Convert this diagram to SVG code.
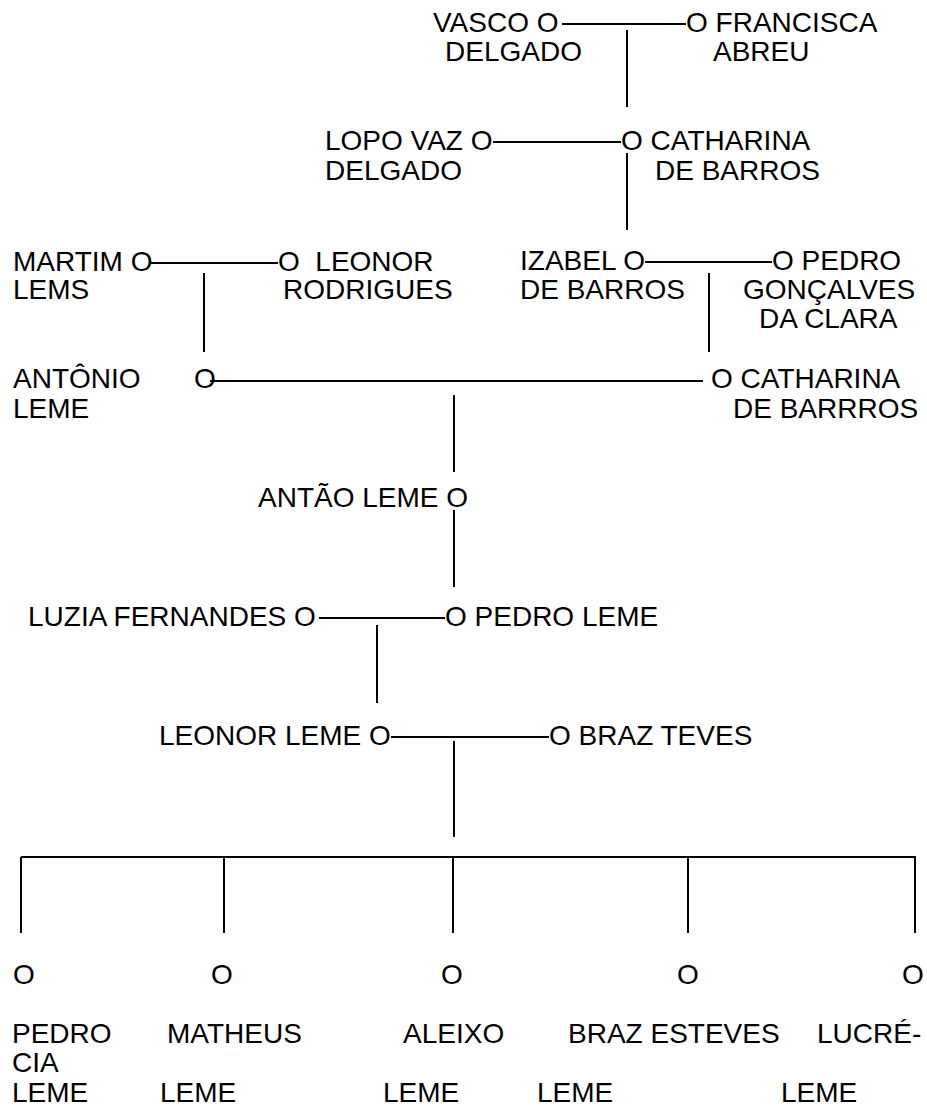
<svg xmlns="http://www.w3.org/2000/svg" width="927" height="1109" viewBox="0 0 927 1109">
<style>
text{font-family:"Liberation Sans",Arial,sans-serif;font-size:28px;fill:#000;}
.c line{stroke:#000;stroke-width:2;}
</style>
<rect width="927" height="1109" fill="#fff"/>
<g id="connectors" class="c">
<line x1="562" y1="24" x2="686" y2="24"/>
<line x1="627" y1="30" x2="627" y2="107"/>
<line x1="493" y1="142" x2="621" y2="142"/>
<line x1="627" y1="153" x2="627" y2="230"/>
<line x1="150" y1="263" x2="278" y2="263"/>
<line x1="204" y1="273" x2="204" y2="352"/>
<line x1="645" y1="262" x2="772" y2="262"/>
<line x1="709" y1="273" x2="709" y2="352"/>
<line x1="210" y1="381" x2="703" y2="381"/>
<line x1="454" y1="395" x2="454" y2="472"/>
<line x1="454" y1="510" x2="454" y2="587"/>
<line x1="319" y1="618" x2="445" y2="618"/>
<line x1="377" y1="625" x2="377" y2="703"/>
<line x1="391" y1="737" x2="549" y2="737"/>
<line x1="454" y1="741" x2="454" y2="837"/>
<line x1="21" y1="857" x2="916" y2="857"/>
<line x1="21" y1="857" x2="21" y2="933"/>
<line x1="224" y1="857" x2="224" y2="933"/>
<line x1="453" y1="857" x2="453" y2="933"/>
<line x1="688" y1="857" x2="688" y2="933"/>
<line x1="915" y1="857" x2="915" y2="933"/>
</g>
<g id="vasco"><text x="433" y="32">VASCO O</text><text x="445" y="61">DELGADO</text></g>
<g id="francisca"><text x="686" y="32">O FRANCISCA</text><text x="713" y="61">ABREU</text></g>
<g id="lopo"><text x="325" y="150">LOPO VAZ O</text><text x="325" y="180">DELGADO</text></g>
<g id="catharina1"><text x="621" y="150">O CATHARINA</text><text x="655" y="180">DE BARROS</text></g>
<g id="martim"><text x="13" y="271">MARTIM O</text><text x="13" y="299">LEMS</text></g>
<g id="leonor-rodrigues"><text x="278" y="271" xml:space="preserve">O  LEONOR</text><text x="283" y="299">RODRIGUES</text></g>
<g id="izabel"><text x="520" y="270">IZABEL O</text><text x="520" y="299">DE BARROS</text></g>
<g id="pedro-goncalves"><text x="772" y="270">O PEDRO</text><text x="743" y="299">GONÇALVES</text><text x="759" y="328">DA CLARA</text></g>
<g id="antonio"><text x="13" y="388">ANTÔNIO</text><text x="194" y="388">O</text><text x="13" y="418">LEME</text></g>
<g id="catharina2"><text x="711" y="388">O CATHARINA</text><text x="733" y="418">DE BARRROS</text></g>
<g id="antao"><text x="258" y="507">ANTÃO LEME O</text></g>
<g id="luzia"><text x="28" y="626">LUZIA FERNANDES O</text></g>
<g id="pedro-leme"><text x="445" y="626">O PEDRO LEME</text></g>
<g id="leonor-leme"><text x="159" y="745">LEONOR LEME O</text></g>
<g id="braz-teves"><text x="549" y="745">O BRAZ TEVES</text></g>
<g id="child-pedro"><text x="13" y="984">O</text><text x="12" y="1043">PEDRO</text><text x="12" y="1072">CIA</text><text x="12" y="1102">LEME</text></g>
<g id="child-matheus"><text x="211" y="984">O</text><text x="167" y="1043">MATHEUS</text><text x="160" y="1102">LEME</text></g>
<g id="child-aleixo"><text x="441" y="984">O</text><text x="403" y="1043">ALEIXO</text><text x="383" y="1102">LEME</text></g>
<g id="child-braz"><text x="677" y="984">O</text><text x="568" y="1043">BRAZ ESTEVES</text><text x="537" y="1102">LEME</text></g>
<g id="child-lucrecia"><text x="902" y="984">O</text><text x="817" y="1043">LUCRÉ-</text><text x="781" y="1102">LEME</text></g>
</svg>
